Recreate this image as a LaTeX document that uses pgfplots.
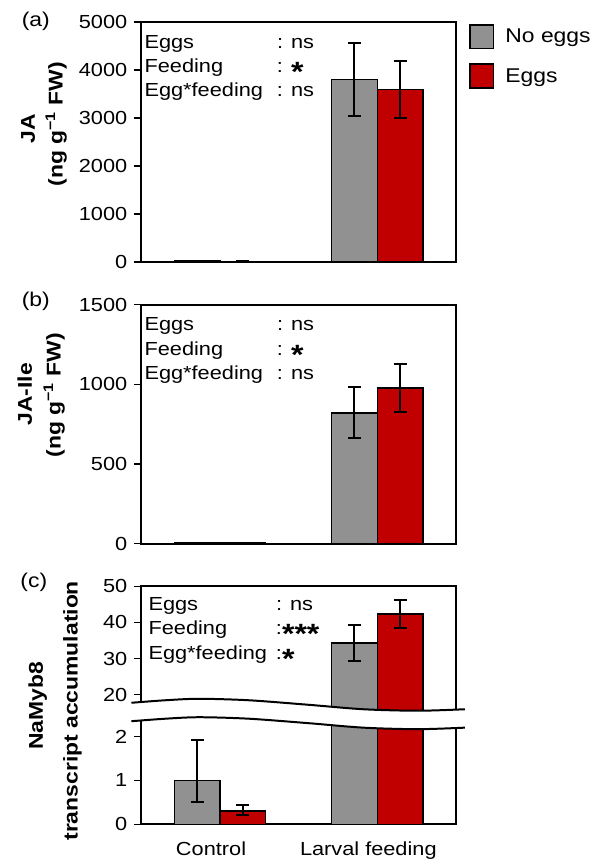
\documentclass[border=0pt]{standalone}
\usepackage{fontspec}
\setmainfont{Liberation Sans}[FakeStretch=1.15]
\usepackage{pgfplots}
\pgfplotsset{compat=1.18}
\definecolor{bargrey}{RGB}{145,145,145}
\definecolor{barred}{RGB}{192,0,0}

\newcommand{\st}{\raisebox{-9pt}[11pt][0pt]{\fontsize{28}{28}\selectfont\bfseries *}}
% #1 gap before the colon, #2-#4 the three results
\newcommand{\stats}[4]{\fontsize{19}{24.5}\selectfont
  \begin{tabular}{@{}l@{\hspace{#1}}l@{}}
    Eggs & #2\\
    Feeding & #3\\
    Egg*feeding & #4
  \end{tabular}}

\pgfplotsset{
  panel/.style={
    scale only axis, width=316pt, anchor=south west,
    xmin=-0.5, xmax=1.5,
    ybar, bar width=0.29,
    axis line style={line width=2pt},
    xtick=\empty, ytick pos=left,
    tick align=outside, major tick length=7pt,
    major tick style={line width=1.5pt, black},
    /pgf/number format/assume math mode=true,
    /pgf/number format/1000 sep={},
    yticklabel style={font=\fontsize{19}{19}\selectfont, inner sep=0pt, xshift=-7pt},
    legend image code/.code={\draw[#1, line width=1.5pt] (0pt,-12pt) rectangle (24pt,12pt);},
  },
  gbar/.style={fill=bargrey, draw=black, line width=1.5pt, bar shift=-0.145,
    error bars/y dir=both, error bars/y explicit,
    error bars/error bar style={line width=2pt, black},
    error bars/error mark options={rotate=90, mark size=6.5pt, line width=2pt, black}},
  rbar/.style={gbar, fill=barred, bar shift=0.145},
}

\begin{document}
\begin{tikzpicture}
\path (0pt,0pt) rectangle (597pt,859pt);

% (a) JA
\begin{axis}[panel, at={(142pt,596pt)}, height=241pt,
  ymin=0, ymax=5000, ytick={0,1000,2000,3000,4000,5000},
  legend style={at={(1,1)}, anchor=north west, xshift=13pt, yshift=-2pt,
    draw=none, fill=none, inner sep=0pt, row sep=14pt,
    font=\fontsize{20}{20}\selectfont, nodes={inner sep=0pt},
    /tikz/column 1/.style={column sep=11pt}},
  legend cell align=left]
\addplot[gbar] coordinates {(0,12) +- (0,0) (1,3800) +- (0,770)};
\addplot[rbar] coordinates {(0,10) +- (0,0) (1,3590) +- (0,590)};
\legend{No eggs, Eggs}
\node[anchor=north west, inner sep=0pt, xshift=3pt, yshift=-9pt] at (rel axis cs:0,1)
  {\stats{14pt}{: ns}{: \st}{: ns}};
\end{axis}

% (b) JA-Ile
\begin{axis}[panel, at={(142pt,313pt)}, height=240pt,
  ymin=0, ymax=1500, ytick={0,500,1000,1500}]
\addplot[gbar] coordinates {(0,4) +- (0,0) (1,820) +- (0,160)};
\addplot[rbar] coordinates {(0,3) +- (0,0) (1,975) +- (0,150)};
\node[anchor=north west, inner sep=0pt, xshift=3pt, yshift=-9pt] at (rel axis cs:0,1)
  {\stats{14pt}{: ns}{: \st}{: ns}};
\end{axis}

% (c) NaMyb8, upper part
\begin{axis}[panel, at={(142pt,143pt)}, height=127pt,
  ymin=15, ymax=50, ytick={20,30,40,50}]
\addplot[gbar] coordinates {(0,1.0) += (0,0.92) -= (0,0.49) (1,34.3) +- (0,5.0)};
\addplot[rbar] coordinates {(0,0.3) += (0,0.15) -= (0,0.1) (1,42.3) +- (0,3.9)};
\node[anchor=north west, inner sep=0pt, xshift=7pt, yshift=-7pt] at (rel axis cs:0,1)
  {\stats{9pt}{: ns}{:\st\st\st}{:\st}};
\end{axis}

% (c) lower part
\begin{axis}[panel, at={(142pt,31pt)}, height=112pt,
  ymin=0, ymax=2.545, ytick={0,1,2},
  xtick={0,1}, xticklabels={Control, Larval feeding},
  x tick style={draw=none},
  xticklabel style={font=\fontsize{19}{19}\selectfont, inner sep=0pt, yshift=-10pt, xshift=-9pt}]
\addplot[gbar] coordinates {(0,1.0) += (0,0.92) -= (0,0.49) (1,34.3) +- (0,5.0)};
\addplot[rbar] coordinates {(0,0.3) += (0,0.15) -= (0,0.1) (1,42.3) +- (0,3.9)};
\end{axis}

% axis break
\begin{axis}[scale only axis, at={(142pt,31pt)}, anchor=south west, width=316pt, height=112pt,
  xmin=-0.5, xmax=1.5, ymin=0, ymax=2.545, hide axis, clip=false]
\fill[white] plot[smooth] coordinates {(-0.563,2.773) (-0.348,2.830) (-0.133,2.864) (0.184,2.830) (0.563,2.727) (0.911,2.625) (1.259,2.591) (1.557,2.625)}
  -- plot[smooth] coordinates {(1.557,2.205) (1.259,2.170) (0.911,2.205) (0.563,2.307) (0.184,2.409) (-0.133,2.443) (-0.348,2.409) (-0.563,2.352)} -- cycle;
\draw[line width=2pt] plot[smooth] coordinates {(-0.563,2.773) (-0.348,2.830) (-0.133,2.864) (0.184,2.830) (0.563,2.727) (0.911,2.625) (1.259,2.591) (1.557,2.625)};
\draw[line width=2pt] plot[smooth] coordinates {(-0.563,2.352) (-0.348,2.409) (-0.133,2.443) (0.184,2.409) (0.563,2.307) (0.911,2.205) (1.259,2.170) (1.557,2.205)};
\end{axis}

% panel letters and axis titles
\begin{scope}[x=1pt, y=1pt]
\node[font=\fontsize{20}{20}\selectfont] at (36,838) {(a)};
\node[font=\fontsize{20}{20}\selectfont] at (36,556) {(b)};
\node[font=\fontsize{20}{20}\selectfont] at (34,274) {(c)};
\begin{scope}[every node/.style={rotate=90, anchor=base, inner sep=0pt, font=\bfseries\fontsize{20}{20}\selectfont}]
\node at (35,730) {JA};
\node at (63,734) {(ng g\textsuperscript{−1} FW)};
\node at (32,463) {JA-Ile};
\node at (61,462) {(ng g\textsuperscript{−1} FW)};
\node at (43,150) {NaMyb8};
\node at (78,145) {transcript accumulation};
\end{scope}
\end{scope}
\end{tikzpicture}
\end{document}
